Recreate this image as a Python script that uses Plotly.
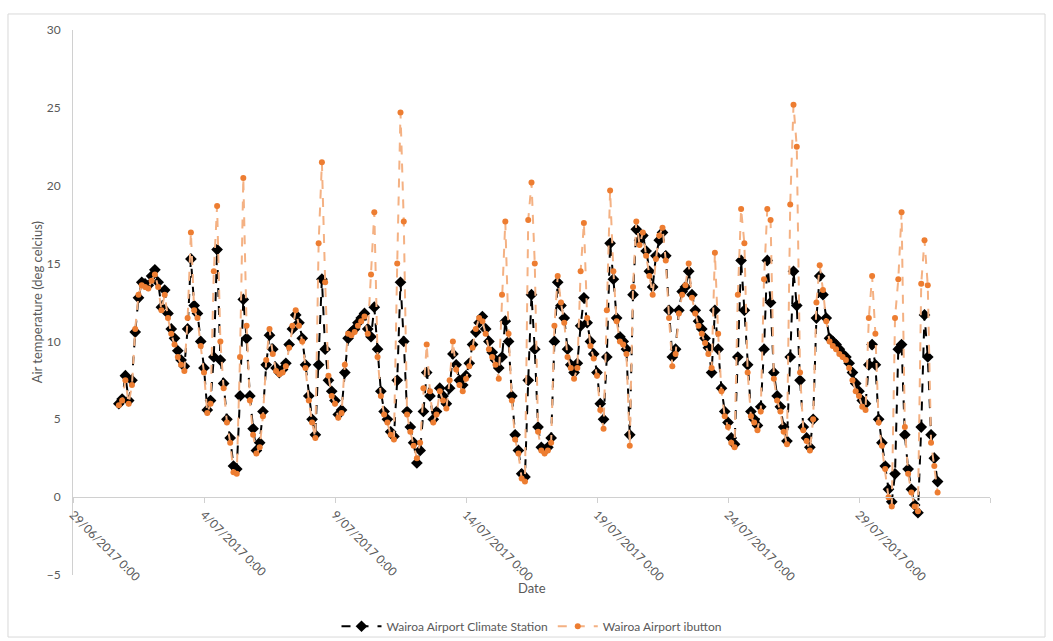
import pandas as pd
import plotly.graph_objects as go

# 3-hourly readings starting 30/06/2017 18:00
start_time = "2017-06-30 18:00"
step = "3h"

station = [
    6.0, 6.3,
    7.8, 6.2, 7.5, 10.6, 12.8, 13.8, 13.7, 13.6,
    14.2, 14.6, 13.8, 12.2, 13.3, 11.8, 10.8, 10.2,
    9.4, 8.8, 8.4, 10.8, 15.3, 12.3, 11.8, 10.0,
    8.3, 5.6, 6.2, 9.0, 15.9, 8.8, 7.3, 5.0,
    3.8, 2.0, 1.8, 6.5, 12.7, 10.2, 6.5, 4.4,
    3.0, 3.5, 5.5, 8.5, 10.4, 9.5, 8.3, 8.0,
    8.2, 8.6, 9.8, 10.8, 11.7, 11.2, 10.2, 8.5,
    6.5, 5.0, 4.0, 8.5, 14.0, 9.5, 7.5, 6.8,
    6.2, 5.3, 5.6, 8.0, 10.2, 10.6, 10.8, 11.2,
    11.5, 11.8, 10.8, 10.3, 12.2, 9.5, 6.8, 5.5,
    5.0, 4.2, 3.9, 7.5, 13.8, 10.0, 5.5, 4.5,
    3.5, 2.2, 3.0, 5.5, 8.0, 6.5, 5.0, 5.5,
    7.0, 6.5, 6.0, 7.0, 9.2, 8.5, 7.5, 7.2,
    7.8, 8.6, 9.8, 10.6, 11.2, 11.6, 10.8, 10.0,
    9.3, 8.8, 8.3, 9.0, 11.3, 10.0, 6.5, 4.0,
    3.0, 1.5, 1.3, 7.5, 13.0, 9.5, 4.5, 3.2,
    3.0, 3.2, 3.8, 10.0, 13.8, 12.3, 11.5, 9.5,
    8.5, 8.0, 8.6, 11.0, 12.8, 11.2, 10.0, 9.2,
    8.0, 6.0, 5.0, 9.0, 16.3, 14.0, 11.5, 10.3,
    10.0, 9.5, 4.0, 13.0, 17.2, 16.5, 16.8, 15.8,
    14.5, 13.5, 15.5, 16.5, 17.0, 15.5, 12.0, 9.0,
    9.5, 12.0, 13.2, 13.5, 14.5, 13.0, 12.0, 11.3,
    10.8, 10.2, 9.6, 8.0, 12.0, 9.5, 7.0, 5.5,
    4.8, 3.8, 3.4, 9.0, 15.2, 12.0, 8.5, 5.5,
    5.0, 4.6, 5.8, 9.5, 15.2, 12.5, 8.0, 6.5,
    5.8, 4.5, 3.6, 9.0, 14.5, 12.3, 7.5, 4.5,
    3.8, 3.2, 5.0, 11.5, 14.2, 13.0, 11.5, 10.2,
    10.0, 9.8, 9.5, 9.2, 9.0, 8.6, 8.0, 7.3,
    6.8, 6.2, 6.0, 8.5, 9.8, 8.5, 5.0, 3.5,
    2.0, 0.5, -0.3, 1.5, 9.5, 9.8, 4.0, 1.8,
    0.5, -0.5, -1.0, 4.5, 11.7, 9.0, 4.0, 2.5,
    1.0,
]

ibutton = [
    5.9, 6.2,
    7.5, 6.0, 7.2, 10.8, 13.0, 13.6, 13.5, 13.4,
    13.9, 14.3, 13.5, 12.0, 13.0, 11.5, 10.5, 9.8,
    9.0, 8.5, 8.1, 11.5, 17.0, 12.0, 11.5, 9.7,
    8.0, 5.4, 6.0, 14.5, 18.7, 10.0, 7.0, 4.8,
    3.5, 1.6, 1.5, 9.0, 20.5, 11.0, 6.2, 4.0,
    2.8, 3.2, 5.2, 8.8, 10.8, 9.2, 8.1, 7.9,
    8.0, 8.4, 9.6, 11.0, 12.0, 11.0, 10.0, 8.3,
    6.2, 4.8, 3.8, 16.3, 21.5, 13.8, 7.8, 6.5,
    6.0, 5.1, 5.4, 8.5, 10.5, 10.4, 10.6, 11.0,
    11.3, 11.6, 10.5, 14.3, 18.3, 9.0, 6.5, 5.3,
    4.8, 4.0, 3.7, 15.0, 24.7, 17.7, 5.3, 4.2,
    3.3, 2.5, 3.5, 7.0, 9.8, 6.8, 4.8, 5.3,
    6.8, 6.2, 5.7, 7.5, 10.0, 8.2, 7.2, 6.8,
    7.6, 8.4, 9.6, 10.8, 11.5, 11.3, 10.5, 9.5,
    9.0, 8.5, 7.6, 13.0, 17.7, 10.5, 6.2, 3.7,
    2.8, 1.2, 1.0, 17.8, 20.2, 15.0, 4.2, 3.0,
    2.8, 3.0, 3.5, 11.0, 14.2, 12.5, 11.2, 9.0,
    8.3, 7.6, 8.3, 14.5, 17.6, 11.5, 9.7, 8.9,
    7.8, 5.6, 4.4, 12.0, 19.7, 14.5, 11.3, 10.0,
    9.8, 9.2, 3.3, 13.5, 17.7, 16.2, 17.0, 15.5,
    14.2, 13.0, 15.3, 16.8, 17.3, 15.2, 11.5, 8.4,
    9.2, 11.8, 13.0, 13.6, 15.0, 12.8, 11.8, 11.0,
    10.5, 9.9, 9.2, 8.3, 15.7, 10.5, 6.8, 5.2,
    4.5, 3.5, 3.2, 13.0, 18.5, 16.3, 8.0, 5.2,
    4.8, 4.3, 5.5, 14.0, 18.5, 17.8, 7.6, 6.2,
    5.5, 4.2, 3.4, 18.8, 25.2, 22.5, 8.0, 4.3,
    3.6, 3.0, 5.0, 12.5, 14.9, 13.3, 11.3, 10.0,
    9.7, 9.5, 9.2, 9.0, 8.8, 8.3, 7.5, 6.8,
    6.5, 5.8, 5.6, 11.5, 14.2, 10.5, 4.8, 3.3,
    1.8, 0.0, -0.6, 11.5, 14.0, 18.3, 4.5, 1.5,
    0.3, -0.6, -0.9, 13.7, 16.5, 13.6, 3.5, 2.0,
    0.3,
]

tick_dates = ["2017-06-29", "2017-07-04", "2017-07-09", "2017-07-14",
              "2017-07-19", "2017-07-24", "2017-07-29", "2017-08-03"]
tick_labels = ["29/06/2017 0:00", "4/07/2017 0:00", "9/07/2017 0:00", "14/07/2017 0:00",
               "19/07/2017 0:00", "24/07/2017 0:00", "29/07/2017 0:00", "3/08/2017 0:00"]
y_ticks = [-5, 0, 5, 10, 15, 20, 25, 30]

times = pd.date_range(start_time, periods=len(station), freq=step)

FONT = "Lato, 'Open Sans', sans-serif"
GREY = "#595959"
AXIS = "#D0D0D0"

fig = go.Figure()
fig.add_trace(go.Scatter(
    x=times, y=station, mode="lines+markers",
    name="Wairoa Airport Climate Station",
    line=dict(color="#000000", width=2, dash="dash"),
    marker=dict(symbol="diamond", size=9, color="#000000"),
))
fig.add_trace(go.Scatter(
    x=times, y=ibutton, mode="lines+markers",
    name="Wairoa Airport ibutton",
    line=dict(color="#F4B183", width=2, dash="dash"),
    marker=dict(symbol="circle", size=6, color="#ED7D31"),
))

y0, y1 = -5, 30
zero_pos = (0 - y0) / (y1 - y0)

fig.update_layout(
    width=1053, height=641,
    margin=dict(l=73, r=63, t=30, b=66, autoexpand=False),
    paper_bgcolor="white", plot_bgcolor="white",
    font=dict(family=FONT, size=12, color=GREY),
    showlegend=True,
    legend=dict(orientation="h", x=0.5, xanchor="center", y=-0.094, yanchor="middle",
                font=dict(family=FONT, size=12, color=GREY), itemwidth=40,
                tracegroupgap=10,
                bgcolor="rgba(0,0,0,0)"),
    xaxis=dict(
        range=[tick_dates[0], tick_dates[-1]],
        tickvals=tick_dates, ticktext=tick_labels, tickangle=45,
        showgrid=False, zeroline=False,
        showline=True, linecolor=AXIS, linewidth=1,
        ticks="outside", ticklen=5, tickcolor=AXIS,
        anchor="free", position=zero_pos, automargin=False,
        tickfont=dict(family=FONT, size=12, color=GREY),
    ),
    yaxis=dict(
        range=[y0, y1], tickvals=y_ticks,
        showgrid=False, zeroline=False,
        showline=True, linecolor=AXIS, linewidth=1,
        ticks="", ticklabelstandoff=9, automargin=False,
        tickfont=dict(family=FONT, size=12, color=GREY),
    ),
    annotations=[
        dict(text="Date", xref="paper", yref="paper", x=0.5, y=-0.024,
             xanchor="center", yanchor="middle", showarrow=False,
             font=dict(family=FONT, size=13, color=GREY)),
        dict(text="Air temperature (deg celcius)", xref="paper", yref="paper",
             x=-0.0394, y=0.5, xanchor="center", yanchor="middle", textangle=-90,
             showarrow=False, font=dict(family=FONT, size=13, color=GREY)),
    ],
    shapes=[
        dict(type="rect", xref="paper", yref="paper",
             x0=-0.0709, x1=1.06, y0=-0.1138, y1=1.0294,
             line=dict(color="#D9D9D9", width=1), fillcolor="rgba(0,0,0,0)", layer="below"),
    ],
)

fig.write_html("out.html", config={"displayModeBar": False},
               post_script="document.body.style.margin='0';")
